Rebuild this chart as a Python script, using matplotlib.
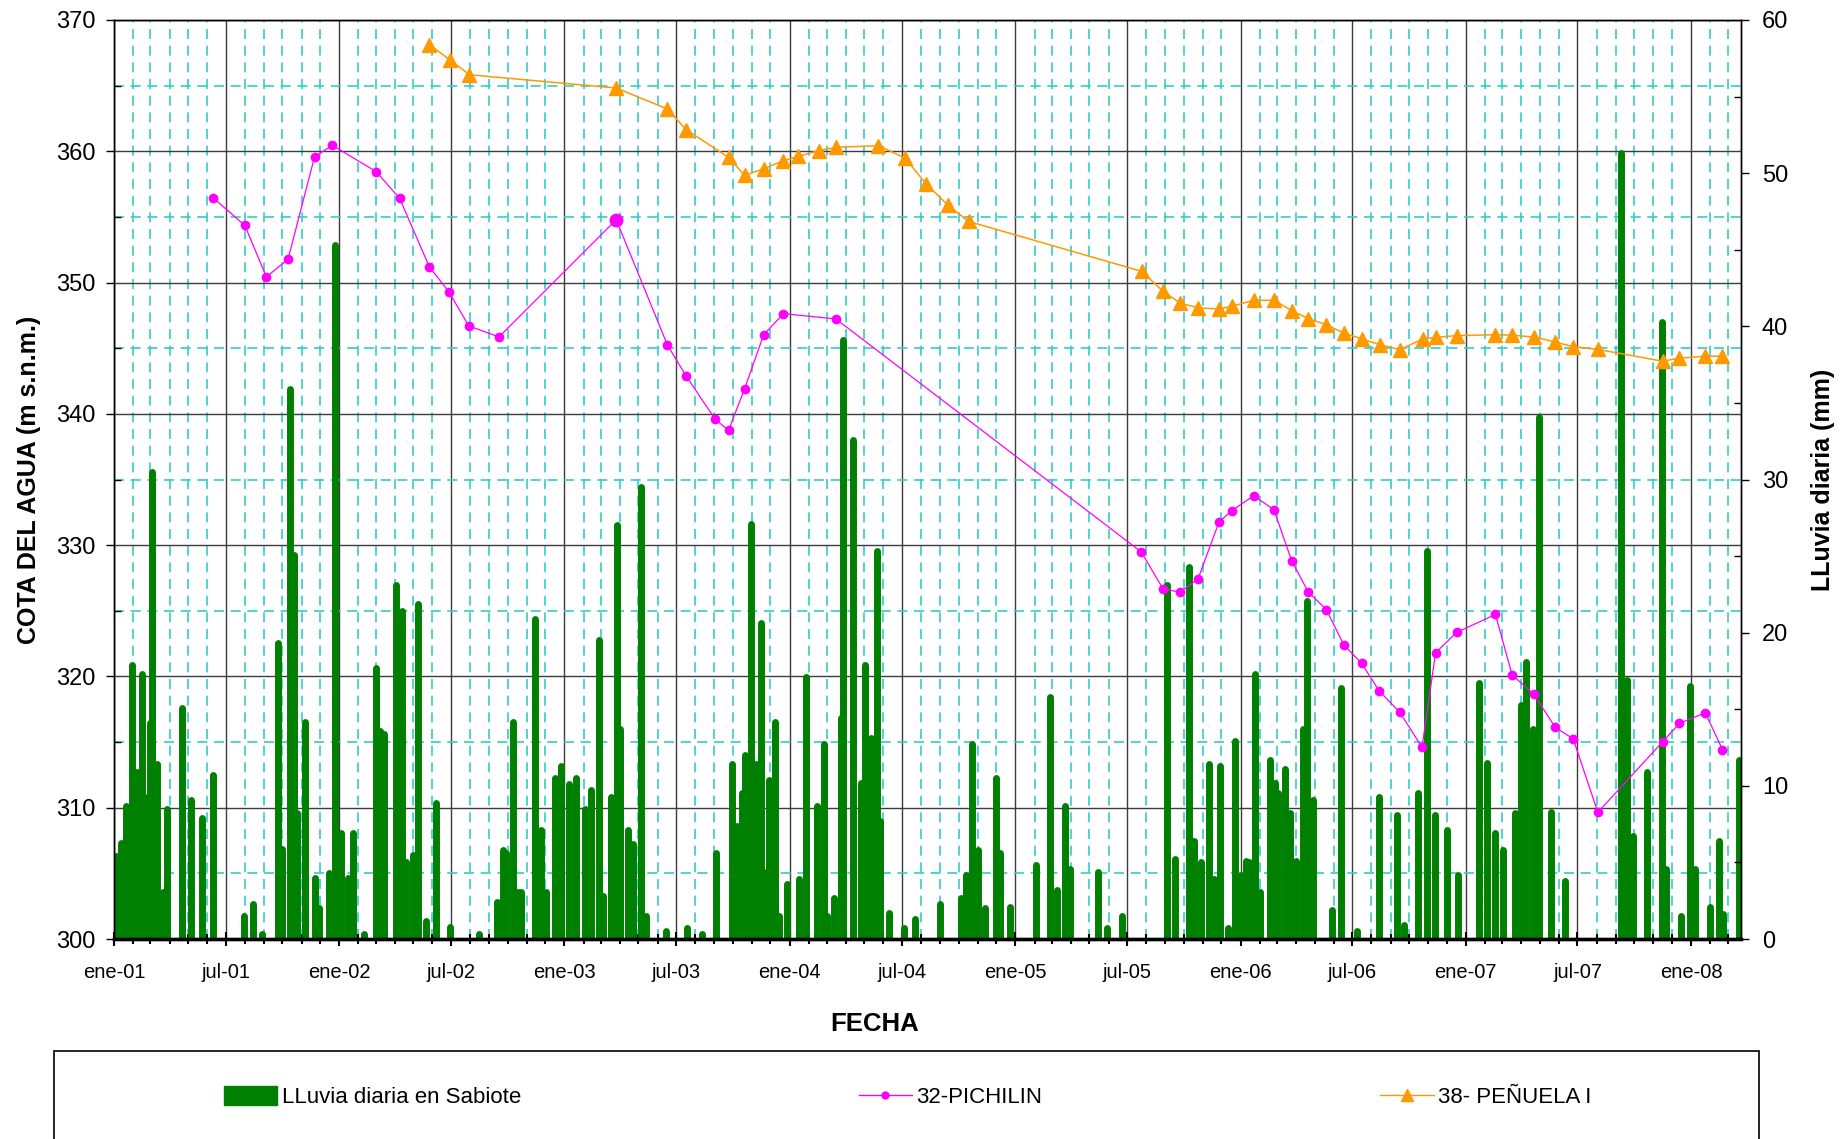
# Niveles piezométricos (32-PICHILIN, 38-PEÑUELA I) y lluvia diaria en Sabiote

import matplotlib
matplotlib.use('Agg')
import matplotlib.pyplot as plt
import matplotlib.dates as mdates
from matplotlib.patches import Patch, Rectangle
from matplotlib.lines import Line2D
from matplotlib.ticker import MultipleLocator, FuncFormatter
import pandas as pd

plt.rcParams['font.family'] = ['Liberation Sans', 'DejaVu Sans']

# dias contados desde el 1 de enero de 2001
inicio = pd.Timestamp('2001-01-01')
fin = pd.Timestamp('2008-03-22')

# 32-PICHILIN
pich_dias = [161, 212, 247, 282, 325, 354, 425, 463, 511, 543,
             575, 624, 814, 897, 927, 974, 996, 1022, 1053, 1085,
             1170, 1665, 1700, 1728, 1757, 1791, 1812, 1847, 1880, 1909,
             1936, 1965, 1993, 2022, 2051, 2084, 2120, 2142, 2176, 2239,
             2266, 2301, 2336, 2365, 2405, 2510, 2537, 2579, 2607]
pich_cota = [356.44, 354.36, 350.43, 351.77, 359.57, 360.45, 358.45, 356.41, 351.21, 349.28,
             346.70, 345.86, 354.79, 345.24, 342.91, 339.61, 338.74, 341.90, 346.03, 347.63,
             347.23, 329.48, 326.69, 326.41, 327.43, 331.77, 332.63, 333.77, 332.70, 328.77,
             326.41, 325.09, 322.42, 321.00, 318.87, 317.27, 314.60, 321.80, 323.35, 324.72,
             320.12, 318.65, 316.12, 315.25, 309.65, 315.02, 316.42, 317.23, 314.43]

# 38- PEÑUELA I
pen_dias = [511, 544, 576, 814, 897, 927, 996, 1022, 1053, 1085,
            1109, 1142, 1171, 1239, 1282, 1316, 1352, 1385, 1666, 1700,
            1728, 1757, 1791, 1812, 1847, 1880, 1909, 1936, 1965, 1993,
            2023, 2052, 2084, 2121, 2143, 2176, 2239, 2266, 2302, 2336,
            2365, 2405, 2510, 2537, 2579, 2607]
pen_cota = [368.12, 366.98, 365.83, 364.82, 363.22, 361.65, 359.54, 358.17, 358.67, 359.28,
            359.61, 360.05, 360.30, 360.43, 359.49, 357.53, 355.88, 354.66, 350.85, 349.33,
            348.45, 348.07, 347.99, 348.19, 348.65, 348.65, 347.86, 347.25, 346.79, 346.16,
            345.70, 345.27, 344.89, 345.70, 345.83, 345.96, 346.03, 345.99, 345.85, 345.47,
            345.12, 344.91, 344.01, 344.24, 344.39, 344.39]

# Lluvia diaria en Sabiote (solo dias con lluvia)
lluvia_dias = [4, 11, 19, 29, 38, 46, 51, 58, 62, 69, 79, 86, 110, 124, 142, 160,
               210, 225, 240, 265, 272, 285, 291, 297, 309, 326, 333, 348, 359, 368, 380, 388, 405,
               425, 431, 438, 457, 467, 473, 485, 493, 505, 522, 544,
               591, 621, 630, 635, 647, 655, 660, 682, 692, 700, 715, 724, 737, 749, 763, 773,
               786, 793, 805, 815, 820, 833, 841, 854, 862,
               894, 929, 953, 976, 1001, 1010, 1018, 1023, 1033, 1041, 1048, 1056, 1062, 1072,
               1078, 1091, 1110, 1121,
               1139, 1150, 1155, 1167, 1179, 1182, 1198, 1210, 1218, 1227, 1237, 1241, 1256,
               1280, 1299, 1339, 1373, 1381, 1390, 1400, 1411, 1430, 1436, 1452, 1495, 1517,
               1528, 1542, 1550, 1595, 1609, 1633,
               1706, 1719, 1742, 1751, 1762, 1774, 1783, 1792, 1805, 1817, 1827, 1834, 1839,
               1850, 1858, 1873, 1881, 1887, 1898, 1906, 1916, 1927, 1933, 1943, 1974, 1989,
               2014, 2050, 2079, 2090, 2113, 2128, 2141, 2160, 2179, 2212, 2225, 2238, 2252,
               2270, 2281, 2289, 2300, 2309, 2329, 2352, 2442, 2452, 2462, 2484, 2509, 2516,
               2540, 2554, 2562, 2587, 2601, 2608, 2633]
lluvia_mm = [5.4, 6.3, 8.7, 17.9, 10.9, 17.3, 9.3, 14.1, 30.5, 11.4, 3.1, 8.5, 15.1, 9.1, 7.9, 10.7,
             1.5, 2.3, 0.3, 19.3, 5.9, 35.9, 25.1, 8.2, 14.2, 4.0, 2.0, 4.3, 45.3, 6.9, 4.0, 6.9, 0.3,
             17.7, 13.6, 13.4, 23.1, 21.4, 5.0, 5.5, 21.9, 1.2, 8.9, 0.8,
             0.3, 2.4, 5.8, 5.6, 14.2, 3.1, 3.1, 20.9, 7.1, 3.1, 10.5, 11.3, 10.1, 10.5, 8.5, 9.7,
             19.5, 2.8, 9.3, 27.0, 13.7, 7.1, 6.2, 29.5, 1.5,
             0.5, 0.7, 0.3, 5.6, 11.4, 7.4, 9.5, 12.0, 27.1, 11.4, 20.6, 4.4, 10.4, 14.2,
             1.5, 3.6, 3.9, 17.1,
             8.7, 12.7, 1.5, 2.7, 14.4, 39.1, 32.6, 10.2, 17.9, 13.1, 25.3, 7.7, 1.7,
             0.7, 1.3, 2.3, 2.7, 4.2, 12.7, 5.8, 2.0, 10.5, 5.6, 2.1, 4.8, 15.8,
             3.2, 8.7, 4.6, 4.4, 0.7, 1.5,
             23.1, 5.2, 24.3, 6.4, 5.0, 11.4, 3.9, 11.3, 0.7, 12.9, 4.2, 5.1, 5.0,
             17.3, 3.1, 11.7, 10.2, 9.5, 11.1, 8.2, 5.1, 13.7, 22.1, 9.1, 1.9, 16.4,
             0.5, 9.3, 8.1, 0.9, 9.5, 25.3, 8.1, 7.1, 4.2, 16.7, 11.5, 6.9, 5.8,
             8.2, 15.3, 18.1, 13.7, 34.1, 8.3, 3.8, 51.3, 16.9, 6.7, 10.9, 40.3, 4.6,
             1.5, 16.5, 4.6, 2.1, 6.4, 1.6, 11.7]

meses = {1: 'ene', 7: 'jul'}


def a_fecha(dias):
    return mdates.date2num((inicio + pd.to_timedelta(dias, unit='D')).to_pydatetime())


x_pich = a_fecha(pich_dias)
x_pen = a_fecha(pen_dias)
x_lluvia = a_fecha(lluvia_dias)

fig = plt.figure(figsize=(18.45, 11.39), dpi=100)
ax = fig.add_axes([114/1845, 1 - 939/1139, (1741 - 114)/1845, (939 - 20)/1139])
ax2 = ax.twinx()

ax.set_xlim(mdates.date2num(inicio), mdates.date2num(fin))
ax.set_ylim(300, 370)
ax2.set_ylim(0, 60)

# rejilla
ax.set_axisbelow(True)
ax.xaxis.set_major_locator(mdates.MonthLocator(bymonth=[1, 7]))
ax.xaxis.set_minor_locator(mdates.MonthLocator())
ax.xaxis.set_major_formatter(FuncFormatter(
    lambda v, pos: meses.get(mdates.num2date(v).month, '') + mdates.num2date(v).strftime('-%y')))
ax.yaxis.set_major_locator(MultipleLocator(10))
ax.yaxis.set_minor_locator(MultipleLocator(5))
ax2.yaxis.set_major_locator(MultipleLocator(10))
ax2.yaxis.set_minor_locator(MultipleLocator(5))
ax.grid(which='major', color='#3c3c3c', lw=1.0, ls='-')
ax.grid(which='minor', color='#33cccc', lw=1.2, ls=(0, (6, 4)))

# lluvia (escala derecha), detras de las lineas
ax.vlines(x_lluvia, 0, lluvia_mm, colors='#008000', lw=5.0, capstyle='round',
          transform=ax2.transData, zorder=1)

# piezometros
ax.plot(x_pich, pich_cota, color='#ff00ff', lw=0.9, marker='o', ms=6,
        mec='#ff00ff', zorder=3)
ax.plot(x_pich[12], pich_cota[12], color='#ff00ff', marker='o', ms=9, zorder=4)
ax.plot(x_pen, pen_cota, color='#ff9900', lw=1.1, marker='^', ms=10,
        mec='#ff9900', zorder=3)

# ejes
ax.tick_params(axis='x', which='major', direction='inout', length=10, width=1.5,
               labelsize=14.5, pad=12)
ax.tick_params(axis='x', which='minor', direction='inout', length=7, width=1.5)
ax.tick_params(axis='y', which='major', direction='out', length=6, width=1,
               labelsize=17, pad=7)
ax.tick_params(axis='y', which='minor', direction='in', length=5, width=1)
ax2.tick_params(axis='y', which='major', direction='out', length=6, width=1,
                labelsize=17, pad=9)
ax2.tick_params(axis='y', which='minor', direction='in', length=5, width=1)
for a in (ax, ax2):
    for s in a.spines.values():
        s.set_color('black')
        s.set_linewidth(1.0)
    a.spines['bottom'].set_linewidth(2.4)

ax.set_xlabel('FECHA', fontsize=18.5, fontweight='bold')
ax.xaxis.set_label_coords((875 - 114)/1627, -0.079)
ax.set_ylabel('COTA DEL AGUA (m s.n.m.)', fontsize=18, fontweight='bold')
ax.yaxis.set_label_coords((41 - 114)/1627, 0.5)
ax2.set_ylabel('LLuvia diaria (mm)', fontsize=18, fontweight='bold')
ax2.yaxis.set_label_coords((1811 - 114)/1627, 0.5)

# leyenda
handles = [Patch(facecolor='#008000', edgecolor='#008000'),
           Line2D([], [], color='#ff00ff', lw=1, marker='o', ms=5),
           Line2D([], [], color='#ff9900', lw=1, marker='^', ms=9)]
labels = ['LLuvia diaria en Sabiote', '32-PICHILIN', '38- PEÑUELA I']
fig.legend(handles, labels, loc='center left', bbox_to_anchor=(224/1845, 1 - 1097/1139),
           ncol=3, frameon=False, fontsize=16, handlelength=2.4, handleheight=0.9,
           handletextpad=0.2, columnspacing=15.2, borderpad=0, borderaxespad=0)
fig.add_artist(Rectangle((54/1845, -0.05), (1759 - 54)/1845, 0.05 + 1 - 1051/1139,
                         transform=fig.transFigure, fill=False, ec='black', lw=1.2))

fig.savefig('out.png', dpi=100)
